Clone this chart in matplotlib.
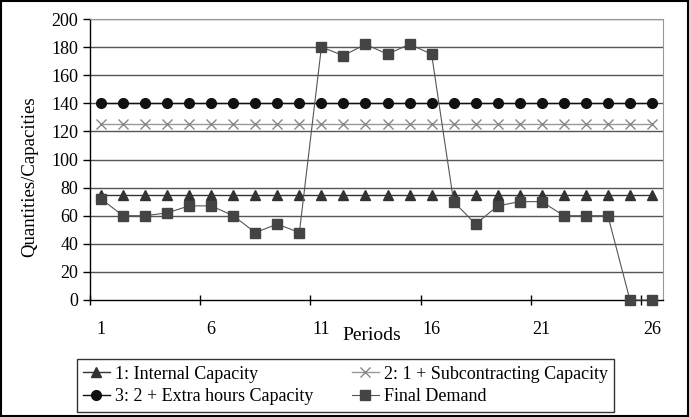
import matplotlib.pyplot as plt
import numpy as np
from matplotlib.patches import Rectangle

plt.rcParams['font.family'] = ['Liberation Serif', 'DejaVu Serif']

# 数据
periods = list(range(1, 27))
internal_cap = [75] * 26
subcontract_cap = [125] * 26
extra_hours_cap = [140] * 26
final_demand = [72, 60, 60, 62, 67, 67, 60, 48, 54, 48,
                180, 174, 182, 175, 182, 175, 70, 54, 67, 70,
                70, 60, 60, 60, 0, 0]
tick_labels = ['1', '6', '11', '16', '21', '26']

fig = plt.figure(figsize=(6.89, 4.17), dpi=100)
ax = fig.add_axes([90 / 689, 1 - 300 / 417, 573 / 689, 281 / 417])

# 网格线
for yv in range(20, 201, 20):
    ax.axhline(yv, color='#555555', linewidth=1, zorder=0)

ax.plot(periods, internal_cap, color='#333333', linewidth=1, marker='^',
        markersize=7, markerfacecolor='#333333', markeredgecolor='#333333',
        label='1: Internal Capacity')
ax.plot(periods, extra_hours_cap, color='#111111', linewidth=1, marker='o',
        markersize=7, markerfacecolor='#111111', markeredgecolor='#111111',
        label='3: 2 + Extra hours Capacity')
ax.plot(periods, subcontract_cap, color='#999999', linewidth=1, marker='x',
        markersize=7, markeredgecolor='#888888', markeredgewidth=1,
        label='2: 1 + Subcontracting Capacity')
ax.plot(periods, final_demand, color='#555555', linewidth=0.8, marker='s',
        markersize=7, markerfacecolor='#444444', markeredgecolor='#444444',
        label='Final Demand', clip_on=False, zorder=5)

ax.set_xlim(0.5, 26.5)
ax.set_ylim(0, 200)
ax.set_yticks(range(0, 201, 20))
ax.tick_params(axis='y', labelsize=13, direction='out', length=5, width=1)

# x轴: 刻度线在类别边界, 标签在类别中心
ax.set_xticks([0.5, 5.5, 10.5, 15.5, 20.5, 25.5])
ax.set_xticklabels([])
ax.tick_params(axis='x', direction='inout', length=7, width=1)
for i, lab in enumerate(tick_labels):
    ax.text(1 + 5 * i, -21, lab, ha='center', va='center', fontsize=13,
            transform=ax.transData, clip_on=False)
ax.text(372 / 689, 1 - 335 / 417, 'Periods', transform=fig.transFigure,
        ha='center', va='center', fontsize=14)

ax.set_ylabel('Quantities/Capacities', fontsize=13.5)
ax.yaxis.set_label_coords(-0.091, 0.44)

for s in ['top', 'right']:
    ax.spines[s].set_color('#999999')
for s in ['left', 'bottom']:
    ax.spines[s].set_color('black')
    ax.spines[s].set_linewidth(1)

leg = fig.legend(loc='center', bbox_to_anchor=(0.5015, 1 - 385.5 / 417),
                 ncol=2, fontsize=13, frameon=True, fancybox=False,
                 handlelength=1.5, handletextpad=0.3, columnspacing=2.1,
                 borderpad=0.35, labelspacing=0.3, borderaxespad=0)
leg.get_frame().set_edgecolor('black')
leg.get_frame().set_linewidth(1)

fig.patches.append(Rectangle((0.002, 0.003), 0.996, 0.994, transform=fig.transFigure,
                             fill=False, edgecolor='black', linewidth=1.5))

fig.savefig('out.png', dpi=100)
